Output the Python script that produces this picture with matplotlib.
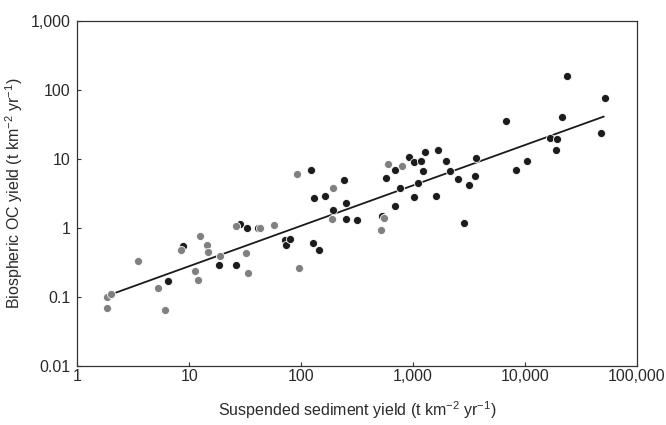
import numpy as np
import matplotlib.pyplot as plt
from matplotlib.ticker import FixedLocator, FixedFormatter

# grey points
grey_x = [1.84, 2.01, 1.83, 3.52, 5.31, 6.11, 8.5, 12.6, 14.5, 14.8, 11.2, 12.1, 19.0,
          26.3, 31.9, 33.3, 43.3, 57.3, 96.8, 91.8, 194.6, 188, 518, 556, 601, 796]
grey_y = [0.099, 0.11, 0.068, 0.33, 0.136, 0.065, 0.48, 0.77, 0.57, 0.446, 0.24, 0.178, 0.395,
          1.06, 0.43, 0.22, 0.98, 1.10, 0.26, 5.95, 3.73, 1.33, 0.94, 1.39, 8.37, 7.9]

# black points
black_x = [6.5, 8.8, 18.4, 26.3, 28.2, 33.0, 41.5, 72.5, 73.5, 80.5, 123.6, 131, 129, 144.6,
           163.5, 191.3, 240, 251, 254, 315, 527, 570, 685, 762, 685, 931, 1025, 1189,
           1286, 1221, 1119, 1016, 1672, 1958, 2137, 1600, 2522, 2851, 3165, 3673, 3580,
           6770, 8350, 10400, 16950, 19500, 19000, 21300, 24000, 48000, 51900]
black_y = [0.168, 0.55, 0.29, 0.29, 1.14, 1.01, 1.0, 0.67, 0.56, 0.70, 6.87, 2.71, 0.61, 0.48,
           2.92, 1.80, 4.98, 2.32, 1.35, 1.28, 1.49, 5.32, 7.0, 3.73, 2.05, 10.7, 8.95, 9.2,
           12.6, 6.64, 4.5, 2.77, 13.6, 9.2, 6.64, 2.86, 5.1, 1.18, 4.2, 10.4, 5.56,
           35.3, 6.93, 9.2, 20.3, 19.4, 13.6, 40.4, 161, 23.7, 76.7]

# regression (log-log): log y = a + b log x
fit_a = -1.14
fit_b = 0.585
fit_xmin, fit_xmax = 2.0, 50600

plt.rcParams['font.family'] = ['Liberation Sans', 'DejaVu Sans']

fig = plt.figure(figsize=(6.66, 4.25), dpi=100)
ax = fig.add_axes([0.116, 0.139, 0.840, 0.812])

xf = np.logspace(np.log10(fit_xmin), np.log10(fit_xmax), 50)
ax.plot(xf, 10 ** (fit_a + fit_b * np.log10(xf)), color='#1a1a1a', lw=1.3, zorder=2)

ax.scatter(black_x, black_y, s=34, c='#1c1c1c', edgecolors='white', linewidths=0.6, zorder=3)
ax.scatter(grey_x, grey_y, s=34, c='#808080', edgecolors='white', linewidths=0.6, zorder=4)

ax.set_xscale('log')
ax.set_yscale('log')
ax.set_xlim(1, 100000)
ax.set_ylim(0.01, 1000)

xt = [1, 10, 100, 1000, 10000, 100000]
yt = [0.01, 0.1, 1, 10, 100, 1000]
ax.xaxis.set_major_locator(FixedLocator(xt))
ax.xaxis.set_major_formatter(FixedFormatter(['1', '10', '100', '1,000', '10,000', '100,000']))
ax.yaxis.set_major_locator(FixedLocator(yt))
ax.yaxis.set_major_formatter(FixedFormatter(['0.01', '0.1', '1', '10', '100', '1,000']))
ax.minorticks_off()

ax.tick_params(direction='in', length=3, width=0.8, colors='#333333', labelsize=11.5,
               labelcolor='#2a2a2a', pad=2)
ax.tick_params(axis='y', pad=5)
for s in ax.spines.values():
    s.set_color('#333333')
    s.set_linewidth(0.9)

ax.set_xlabel('Suspended sediment yield (t km$^{\\mathregular{-2}}$ yr$^{\\mathregular{-1}}$)',
              fontsize=11.5, color='#2a2a2a', labelpad=11)
ax.set_ylabel('Biospheric OC yield (t km$^{\\mathregular{-2}}$ yr$^{\\mathregular{-1}}$)',
              fontsize=11.5, color='#2a2a2a', labelpad=4)

plt.savefig('out.png', dpi=100)
